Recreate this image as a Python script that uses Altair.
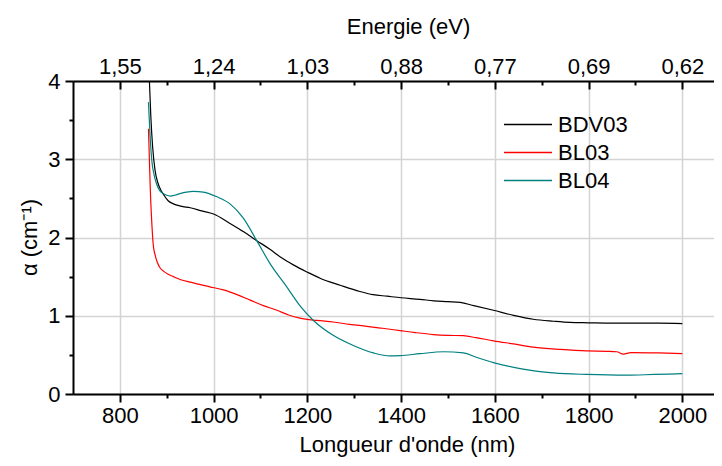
import altair as alt
import pandas as pd

# ---- data ----
series_names = ["BDV03", "BL03", "BL04"]
series_colors = ["#000000", "#ff0000", "#008080"]

bdv03_nm = [863, 866, 870, 875, 881, 887, 893, 903, 914, 930, 950, 975, 1000, 1035, 1065,
            1092, 1120, 1145, 1170, 1199, 1227, 1270, 1312, 1340, 1370, 1400, 1440, 1470,
            1500, 1526, 1555, 1597, 1640, 1682, 1725, 1760, 1800, 1850, 1900, 1950, 2000]
bdv03_alpha = [4.0, 3.55, 3.15, 2.86, 2.70, 2.61, 2.55, 2.47, 2.43, 2.40, 2.38, 2.34, 2.30, 2.18, 2.07,
               1.96, 1.85, 1.74, 1.65, 1.56, 1.48, 1.39, 1.31, 1.27, 1.25, 1.23, 1.21, 1.19,
               1.18, 1.17, 1.13, 1.07, 1.005, 0.955, 0.93, 0.915, 0.91, 0.905, 0.905, 0.905, 0.90]

bl03_nm = [861, 863, 865, 868, 871, 875, 880, 886, 893, 903, 914, 930, 950, 970, 992, 1021,
           1050, 1078, 1106, 1135, 1160, 1184, 1220, 1255, 1290, 1327, 1360, 1398, 1430, 1469,
           1500, 1533, 1560, 1597, 1640, 1682, 1740, 1796, 1839, 1860, 1874, 1890, 1950, 2000]
bl03_alpha = [3.39, 3.0, 2.6, 2.2, 1.92, 1.78, 1.68, 1.61, 1.57, 1.53, 1.50, 1.46, 1.43, 1.40, 1.37, 1.33,
              1.27, 1.20, 1.13, 1.07, 1.01, 0.97, 0.94, 0.92, 0.89, 0.865, 0.84, 0.81, 0.785, 0.76,
              0.75, 0.745, 0.72, 0.68, 0.64, 0.60, 0.57, 0.55, 0.545, 0.54, 0.51, 0.53, 0.525, 0.515]

bl04_nm = [861, 864, 868, 873, 878, 885, 893, 900, 907, 917, 928, 942, 957, 978, 1007, 1035,
           1063, 1092, 1120, 1156, 1184, 1213, 1255, 1298, 1341, 1376, 1398, 1440, 1490, 1533,
           1560, 1597, 1654, 1725, 1796, 1881, 1940, 2000]
bl04_alpha = [3.73, 3.35, 2.99, 2.80, 2.69, 2.60, 2.56, 2.54, 2.53, 2.54, 2.56, 2.58, 2.59, 2.58, 2.52, 2.43,
              2.25, 1.96, 1.67, 1.37, 1.13, 0.94, 0.75, 0.62, 0.525, 0.486, 0.49, 0.515, 0.54, 0.525,
              0.47, 0.40, 0.325, 0.27, 0.25, 0.24, 0.25, 0.26]

x_major = [800, 1000, 1200, 1400, 1600, 1800, 2000]
x_minor = [900, 1100, 1300, 1500, 1700, 1900]
y_major = [0, 1, 2, 3, 4]
y_minor = [0.5, 1.5, 2.5, 3.5]
energy_labels = ["1,55", "1,24", "1,03", "0,88", "0,77", "0,69", "0,62"]

rows = []
for name, xs_, ys_ in zip(series_names, [bdv03_nm, bl03_nm, bl04_nm],
                          [bdv03_alpha, bl03_alpha, bl04_alpha]):
    for a, b in zip(xs_, ys_):
        rows.append({"series": name, "nm": a, "alpha": b})
df = pd.DataFrame(rows)

FONT = "Liberation Sans"
FS = 22
xscale = alt.Scale(domain=[700, 2067.5], nice=False, zero=False)
yscale = alt.Scale(domain=[0, 4], nice=False, zero=False)

energy_expr = " : ".join(f"datum.value == {v} ? '{l}'" for v, l in zip(x_major, energy_labels)) + " : ''"

tick_style = dict(tickColor="black", tickWidth=2)

x_bottom_major = alt.Axis(orient="bottom", values=x_major, format="d", tickSize=8, **tick_style,
                          domain=True, domainColor="black", domainWidth=2,
                          grid=True, gridColor="#d4d4d4", gridWidth=1.5,
                          labelFont=FONT, labelFontSize=FS, labelColor="black", labelPadding=3,
                          title="Longueur d'onde (nm)", titleFont=FONT, titleFontSize=FS,
                          titleFontWeight="normal", titleColor="black",
                          titleX=334, titleY=57, titleBaseline="alphabetic", titleAlign="center")
y_left_major = alt.Axis(orient="left", values=y_major, tickSize=8, **tick_style,
                        domain=True, domainColor="black", domainWidth=2,
                        grid=True, gridColor="#d4d4d4", gridWidth=1.5,
                        labelFont=FONT, labelFontSize=FS, labelColor="black", labelPadding=5,
                        title="α (cm⁻¹)", titleFont=FONT, titleFontSize=FS,
                        titleFontWeight="normal", titleColor="black",
                        titleX=-37, titleY=156, titleAngle=270, titleBaseline="alphabetic",
                        titleAlign="center")

x_bottom_minor = alt.Axis(orient="bottom", values=x_minor, tickSize=4, **tick_style,
                          labels=False, domain=False, grid=False, title=None)
y_left_minor = alt.Axis(orient="left", values=y_minor, tickSize=4, **tick_style,
                        labels=False, domain=False, grid=False, title=None)

x_top_labels = alt.Axis(orient="top", values=x_major, ticks=False, tickSize=0,
                        domain=True, domainColor="black", domainWidth=2, grid=False,
                        labelExpr=energy_expr, labelFont=FONT, labelFontSize=FS, labelColor="black",
                        labelPadding=8, labelBaseline="alphabetic",
                        title="Energie (eV)", titleFont=FONT, titleFontSize=FS,
                        titleFontWeight="normal", titleColor="black",
                        titleX=335, titleY=-48, titleBaseline="alphabetic", titleAlign="center")

x_top_major_ticks = alt.Axis(orient="top", values=x_major, tickSize=8, **tick_style, offset=-8,
                             labels=False, domain=False, grid=False, title=None)
x_top_minor_ticks = alt.Axis(orient="top", values=x_minor, tickSize=4, **tick_style, offset=-4,
                             labels=False, domain=False, grid=False, title=None)

lines = alt.Chart(df).mark_line(strokeWidth=1.2, clip=True, interpolate="monotone").encode(
    x=alt.X("nm:Q", scale=xscale, axis=x_bottom_major),
    y=alt.Y("alpha:Q", scale=yscale, axis=y_left_major),
    color=alt.Color("series:N",
                    scale=alt.Scale(domain=series_names, range=series_colors),
                    legend=alt.Legend(orient="none", legendX=430, legendY=33, title=None,
                                      symbolType="stroke", symbolSize=2304, symbolStrokeWidth=1.5,
                                      clipHeight=21, rowPadding=5, labelOffset=5, padding=0,
                                      labelFont=FONT, labelFontSize=FS, labelColor="black")),
)


def helper(xaxis, yaxis):
    return alt.Chart(df).mark_point(opacity=0, size=1).encode(
        x=alt.X("nm:Q", scale=xscale, axis=xaxis),
        y=alt.Y("alpha:Q", scale=yscale, axis=yaxis),
    )


chart = alt.layer(
    lines,
    helper(x_bottom_minor, y_left_minor),
    helper(x_top_labels, None),
    helper(x_top_major_ticks, None),
    helper(x_top_minor_ticks, None),
).resolve_axis(x="independent", y="independent").properties(
    width=641, height=313,
    padding={"left": 65, "top": 73, "right": 0, "bottom": 64},
    autosize=alt.AutoSizeParams(type="none"),
).configure_view(stroke=None)

chart.save("out.html", embed_options={"renderer": "svg", "actions": False})
